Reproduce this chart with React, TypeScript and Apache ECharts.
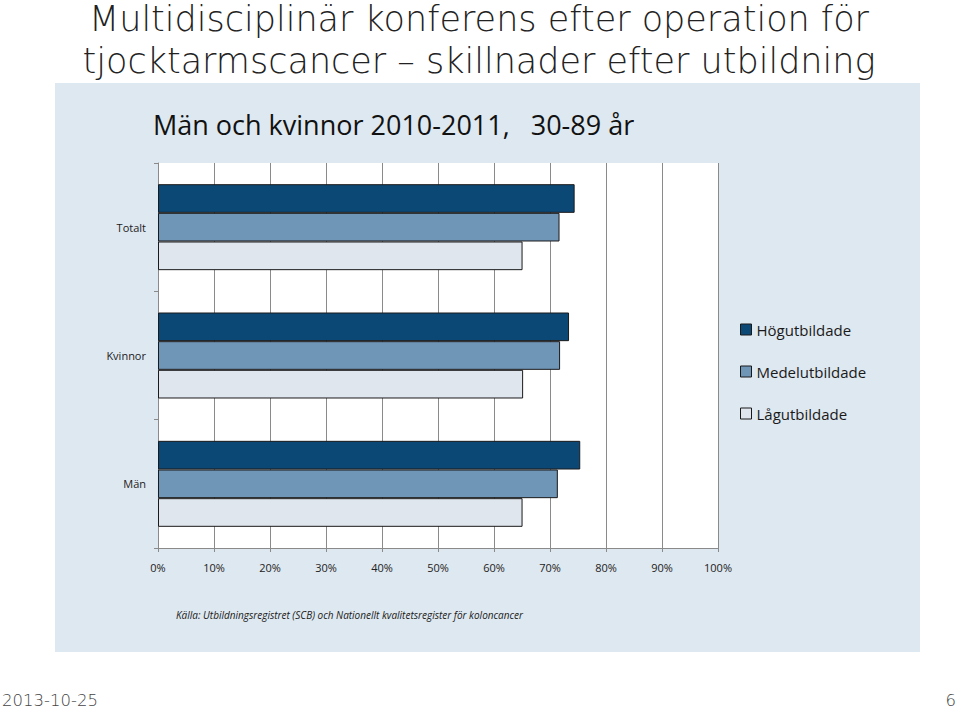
import React, { useEffect, useRef } from "react";
import * as echarts from "echarts";

const categories = ["Totalt", "Kvinnor", "Män"];
const seriesNames = ["Högutbildade", "Medelutbildade", "Lågutbildade"];
const hogValues = [74.4, 73.4, 75.4];
const medelValues = [71.7, 71.8, 71.4];
const lagValues = [65.1, 65.2, 65.1];
const seriesColors = ["#0c4876", "#6f95b7", "#dfe6ee"];
const titleLines = [
  "Multidisciplinär konferens efter operation för",
  "tjocktarmscancer – skillnader efter utbildning",
];

export default function App() {
  const ref = useRef<HTMLDivElement>(null);
  useEffect(() => {
    if (!ref.current) return;
    const chart = echarts.init(ref.current, undefined, { renderer: "svg" });
    const values = [hogValues, medelValues, lagValues];
    chart.setOption({
      animation: false,
      backgroundColor: "#ffffff",
      title: [
        {
          text: "Män och kvinnor 2010-2011,   30-89 år",
          left: 148,
          top: 106,
          textStyle: {
            fontFamily: "Open Sans",
            fontSize: 27,
            fontWeight: "normal",
            color: "#111111",
          },
        },
      ],
      graphic: [
        {
          type: "rect",
          z: -10,
          silent: true,
          shape: { x: 55, y: 83, width: 865, height: 569 },
          style: { fill: "#dee8f0" },
        },
        ...titleLines.map((t, i) => ({
          type: "text",
          x: 479,
          y: 19 + i * 42,
          style: {
            text: t,
            fontFamily: "DejaVu Sans",
            fontSize: 35,
            fontWeight: 300,
            fill: "#222222",
            align: "center",
            verticalAlign: "middle",
          },
        })),
        {
          type: "text",
          x: 176,
          y: 615,
          style: {
            text: "Källa: Utbildningsregistret (SCB) och Nationellt kvalitetsregister för koloncancer",
            fontFamily: "Open Sans",
            fontStyle: "italic",
            fontSize: 10,
            fill: "#1a1a1a",
            verticalAlign: "middle",
          },
        },
        {
          type: "text",
          x: 2,
          y: 700,
          style: {
            text: "2013-10-25",
            fontFamily: "DejaVu Sans",
            fontSize: 16.5,
            fontWeight: 300,
            fill: "#444444",
            verticalAlign: "middle",
          },
        },
        {
          type: "text",
          x: 956,
          y: 700,
          style: {
            text: "6",
            fontFamily: "DejaVu Sans",
            fontSize: 16.5,
            fontWeight: 300,
            fill: "#444444",
            align: "right",
            verticalAlign: "middle",
          },
        },
      ],
      legend: {
        orient: "vertical",
        left: 735,
        top: 317,
        itemWidth: 11,
        itemHeight: 11,
        itemGap: 27,
        icon: "rect",
        data: seriesNames,
        itemStyle: { borderColor: "#1a1a1a", borderWidth: 1 },
        textStyle: { fontFamily: "Open Sans", fontSize: 15, color: "#1a1a1a" },
      },
      grid: {
        left: 158,
        right: 242,
        top: 163,
        bottom: 163,
        show: true,
        backgroundColor: "#ffffff",
        borderWidth: 0,
      },
      xAxis: {
        type: "value",
        min: 0,
        max: 100,
        interval: 10,
        axisLine: { show: true, lineStyle: { color: "#8a8a8a", width: 1 } },
        axisTick: { show: true, length: 4, lineStyle: { color: "#8a8a8a" } },
        splitLine: { show: true, lineStyle: { color: "#8a8a8a", width: 1 } },
        axisLabel: {
          formatter: "{value}%",
          margin: 14,
          fontFamily: "Open Sans",
          fontSize: 11,
          color: "#222222",
        },
      },
      yAxis: {
        type: "category",
        inverse: true,
        data: categories,
        axisLine: { show: true, lineStyle: { color: "#8a8a8a", width: 1 } },
        axisTick: { show: true, length: 4, lineStyle: { color: "#8a8a8a" } },
        axisLabel: {
          margin: 12,
          fontFamily: "Open Sans",
          fontSize: 11,
          color: "#222222",
        },
      },
      series: seriesNames.map((name, i) => ({
        name,
        type: "bar",
        data: values[i],
        barGap: "0%",
        barCategoryGap: "33%",
        itemStyle: {
          color: seriesColors[i],
          borderColor: "#1a1a1a",
          borderWidth: 1,
        },
      })),
    });
    return () => chart.dispose();
  }, []);
  return (
    <div
      ref={ref}
      style={{ position: "fixed", left: 0, top: 0, width: 960, height: 711 }}
    />
  );
}
